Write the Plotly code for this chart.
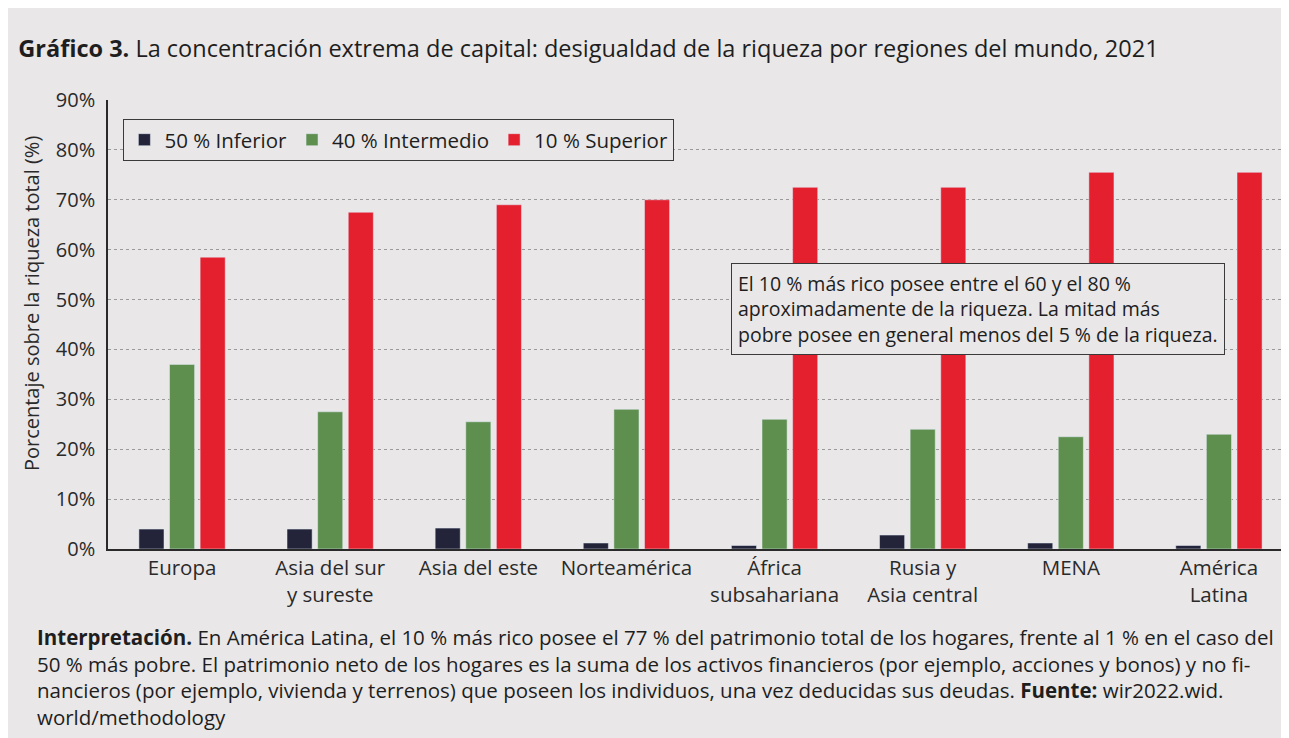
import plotly.graph_objects as go

categories = ["Europa", "Asia del sur<br>y sureste", "Asia del este", "Norteamérica",
              "África<br>subsahariana", "Rusia y<br>Asia central", "MENA", "América<br>Latina"]
inferior_50 = [4.0, 4.0, 4.2, 1.2, 0.7, 2.8, 1.2, 0.7]
intermedio_40 = [37.0, 27.5, 25.5, 28.0, 26.0, 24.0, 22.5, 23.0]
superior_10 = [58.5, 67.5, 69.0, 70.0, 72.5, 72.5, 75.5, 75.5]
y_ticks = [0, 10, 20, 30, 40, 50, 60, 70, 80, 90]
y_labels = [f"{v}%" for v in y_ticks]

BG = "#e9e7e8"
FONT = "Open Sans"

fig = go.Figure()
fig.add_bar(x=categories, y=inferior_50, name="50 % Inferior", marker_color="#23243a")
fig.add_bar(x=categories, y=intermedio_40, name="40 % Intermedio", marker_color="#5e8f4f")
fig.add_bar(x=categories, y=superior_10, name="10 % Superior", marker_color="#e4202f")

fig.update_layout(
    width=1289, height=738,
    paper_bgcolor=BG, plot_bgcolor=BG,
    margin=dict(l=100, r=4, t=92, b=197),
    barmode="group", bargap=0.38, bargroupgap=0.18,
    font=dict(family=FONT, size=20, color="#2a2a2a"),
    title=dict(
        text="<b>Gráfico 3.</b> La concentración extrema de capital: desigualdad de la riqueza por regiones del mundo, 2021",
        x=0.008, xanchor="left", xref="container",
        y=0.945, yanchor="middle", yref="container",
        font=dict(family=FONT, size=23.5, color="#1e1e1e"),
    ),
    legend=dict(
        orientation="h", x=0.013, xanchor="left", y=0.958, yanchor="top",
        bgcolor=BG, bordercolor="#3a3a3a", borderwidth=1,
        font=dict(family=FONT, size=20.5, color="#1e1e1e"),
        itemwidth=30,
    ),
    showlegend=True,
)

fig.update_yaxes(
    range=[0, 90], tickvals=y_ticks, ticktext=y_labels,
    showgrid=True, gridcolor="#9a9a9a", griddash="dot", gridwidth=1,
    showline=True, linecolor="#2a2a2a", linewidth=1.5,
    zeroline=False, ticks="", ticklabelstandoff=7,
    tickfont=dict(family=FONT, size=20, color="#2a2a2a"),
)
fig.update_xaxes(
    showline=True, linecolor="#2a2a2a", linewidth=1.5,
    showgrid=False, ticks="",
    tickfont=dict(family=FONT, size=20.5, color="#2a2a2a"),
)

fig.add_annotation(
    text="Porcentaje sobre la riqueza total (%)", textangle=-90,
    xref="paper", yref="paper", x=-0.064, y=0.548,
    xanchor="center", yanchor="middle",
    showarrow=False, font=dict(family=FONT, size=20, color="#2a2a2a"),
)

fig.add_annotation(
    text="El 10 % más rico posee entre el 60 y el 80 %<br>aproximadamente de la riqueza. La mitad más<br>pobre posee en general menos del 5 % de la riqueza.",
    xref="paper", yref="paper", x=0.734, y=0.535,
    xanchor="center", yanchor="middle", align="left",
    showarrow=False, bgcolor=BG, bordercolor="#3a3a3a", borderwidth=1, borderpad=6,
    font=dict(family=FONT, size=19.5, color="#1e1e1e"),
)

fig.add_annotation(
    text=("<b>Interpretación.</b> En América Latina, el 10 % más rico posee el 77 % del patrimonio total de los hogares, frente al 1 % en el caso del<br>"
          "50 % más pobre. El patrimonio neto de los hogares es la suma de los activos financieros (por ejemplo, acciones y bonos) y no fi-<br>"
          "nancieros (por ejemplo, vivienda y terrenos) que poseen los individuos, una vez deducidas sus deudas. <b>Fuente:</b> wir2022.wid.<br>"
          "world/methodology"),
    xref="paper", yref="paper", x=-0.062, y=-0.16,
    xanchor="left", yanchor="top", align="left",
    showarrow=False,
    font=dict(family=FONT, size=20.5, color="#1e1e1e"),
)

fig.write_html("out.html")
